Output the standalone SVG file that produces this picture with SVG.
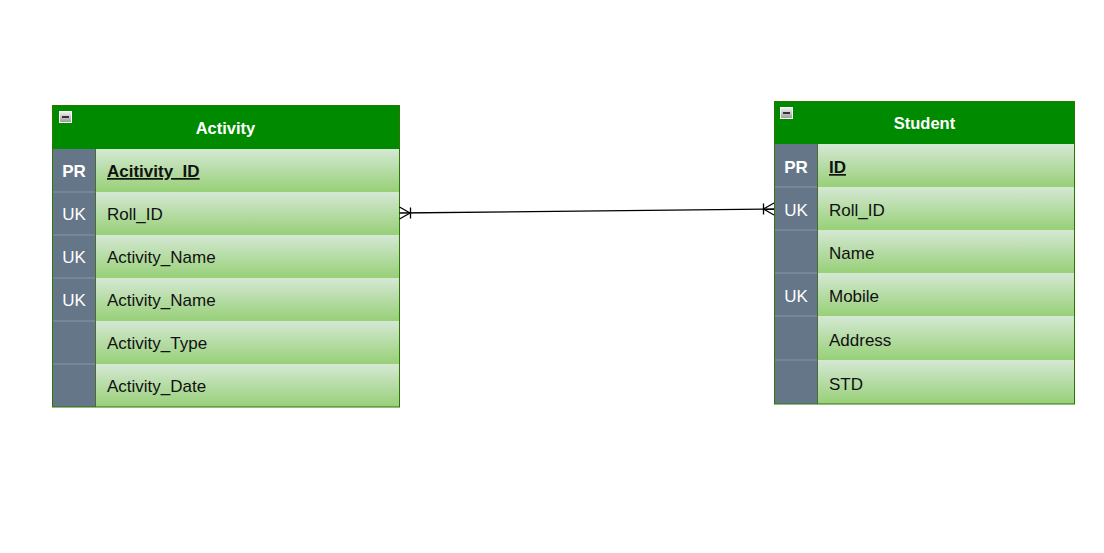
<svg xmlns="http://www.w3.org/2000/svg" width="1104" height="553" viewBox="0 0 1104 553">
<defs>
<linearGradient id="rowg" x1="0" y1="0" x2="0" y2="1">
<stop offset="0" stop-color="#d5e8d4"/>
<stop offset="1" stop-color="#97d077"/>
</linearGradient>
<linearGradient id="btng" x1="0" y1="0" x2="0" y2="1">
<stop offset="0" stop-color="#f2f2f2"/>
<stop offset="1" stop-color="#9a9a9a"/>
</linearGradient>
</defs>
<style>
.hdr{fill:#008a00;stroke:#2d7600;stroke-width:1}
.row{fill:url(#rowg);stroke:none}
.key{fill:#647687;stroke:none}
.ksep{stroke:#8696a6;stroke-width:1}
.frame{fill:none;stroke:#2d7600;stroke-width:1}
.title{font-family:"Liberation Sans",Arial,sans-serif;font-size:16.5px;font-weight:bold;fill:#ffffff;text-anchor:middle}
.kt{font-family:"Liberation Sans",Arial,sans-serif;font-size:17px;font-weight:bold;fill:#ffffff;text-anchor:middle}
.kn{font-family:"Liberation Sans",Arial,sans-serif;font-size:17px;fill:#ffffff;text-anchor:middle}
.ft{font-family:"Liberation Sans",Arial,sans-serif;font-size:17px;fill:#111111}
.pk{font-weight:bold;text-decoration:underline}
.btn{fill:url(#btng);stroke:#ffffff;stroke-width:1}
.edge{fill:none;stroke:#000000;stroke-width:1.3}
</style>
<rect width="1104" height="553" fill="#ffffff"/>

<g id="activity">
<rect class="hdr" x="52.5" y="105.5" width="347" height="44"/>
<rect class="btn" x="59.5" y="111.5" width="12" height="11"/>
<line x1="62" y1="117" x2="69" y2="117" stroke="#333" stroke-width="2"/>
<text class="title" x="225.5" y="134">Activity</text>
<rect class="key" x="52.5" y="149" width="43" height="258"/>
<rect class="row" x="95.5" y="149" width="304" height="43"/>
<rect class="row" x="95.5" y="192" width="304" height="43"/>
<rect class="row" x="95.5" y="235" width="304" height="43"/>
<rect class="row" x="95.5" y="278" width="304" height="43"/>
<rect class="row" x="95.5" y="321" width="304" height="43"/>
<rect class="row" x="95.5" y="364" width="304" height="43"/>
<g class="ksep"><line x1="52.5" y1="192" x2="95.5" y2="192"/><line x1="52.5" y1="235" x2="95.5" y2="235"/><line x1="52.5" y1="278" x2="95.5" y2="278"/><line x1="52.5" y1="321" x2="95.5" y2="321"/><line x1="52.5" y1="364" x2="95.5" y2="364"/></g>
<line x1="95.5" y1="149" x2="95.5" y2="407" stroke="#4a6a3a" stroke-width="1"/>
<rect class="frame" x="52.5" y="105.5" width="347" height="301.5"/>
<text class="kt" x="74" y="177">PR</text>
<text class="kn" x="74" y="220">UK</text>
<text class="kn" x="74" y="263">UK</text>
<text class="kn" x="74" y="306">UK</text>
<text class="ft pk" x="107" y="177">Acitivity_ID</text>
<text class="ft" x="107" y="220">Roll_ID</text>
<text class="ft" x="107" y="263">Activity_Name</text>
<text class="ft" x="107" y="306">Activity_Name</text>
<text class="ft" x="107" y="349">Activity_Type</text>
<text class="ft" x="107" y="392">Activity_Date</text>
</g>

<g id="student">
<rect class="hdr" x="774.5" y="101.5" width="300" height="43"/>
<rect class="btn" x="780.5" y="107.5" width="12" height="11"/>
<line x1="783" y1="113" x2="790" y2="113" stroke="#333" stroke-width="2"/>
<text class="title" x="924.5" y="129">Student</text>
<rect class="key" x="774.5" y="144" width="43" height="260"/>
<rect class="row" x="817.5" y="144" width="257" height="43"/>
<rect class="row" x="817.5" y="187" width="257" height="43"/>
<rect class="row" x="817.5" y="230" width="257" height="43"/>
<rect class="row" x="817.5" y="273" width="257" height="43"/>
<rect class="row" x="817.5" y="316" width="257" height="44"/>
<rect class="row" x="817.5" y="360" width="257" height="44"/>
<g class="ksep"><line x1="774.5" y1="187" x2="817.5" y2="187"/><line x1="774.5" y1="230" x2="817.5" y2="230"/><line x1="774.5" y1="273" x2="817.5" y2="273"/><line x1="774.5" y1="316" x2="817.5" y2="316"/><line x1="774.5" y1="360" x2="817.5" y2="360"/></g>
<line x1="817.5" y1="144" x2="817.5" y2="404" stroke="#4a6a3a" stroke-width="1"/>
<rect class="frame" x="774.5" y="101.5" width="300" height="302.5"/>
<text class="kt" x="796" y="173">PR</text>
<text class="kn" x="796" y="216">UK</text>
<text class="kn" x="796" y="302">UK</text>
<text class="ft pk" x="829" y="173">ID</text>
<text class="ft" x="829" y="216">Roll_ID</text>
<text class="ft" x="829" y="259">Name</text>
<text class="ft" x="829" y="302">Mobile</text>
<text class="ft" x="829" y="346">Address</text>
<text class="ft" x="829" y="390">STD</text>
</g>

<g id="connectors">
<path class="edge" d="M399.5 213 L774 209"/>
<path class="edge" d="M399.5 207 L410 213 L399.5 219 M410.5 207.5 L410.5 218.5"/>
<path class="edge" d="M774 203 L763.5 209 L774 215 M763.5 203.5 L763.5 214.5"/>
</g>
</svg>
